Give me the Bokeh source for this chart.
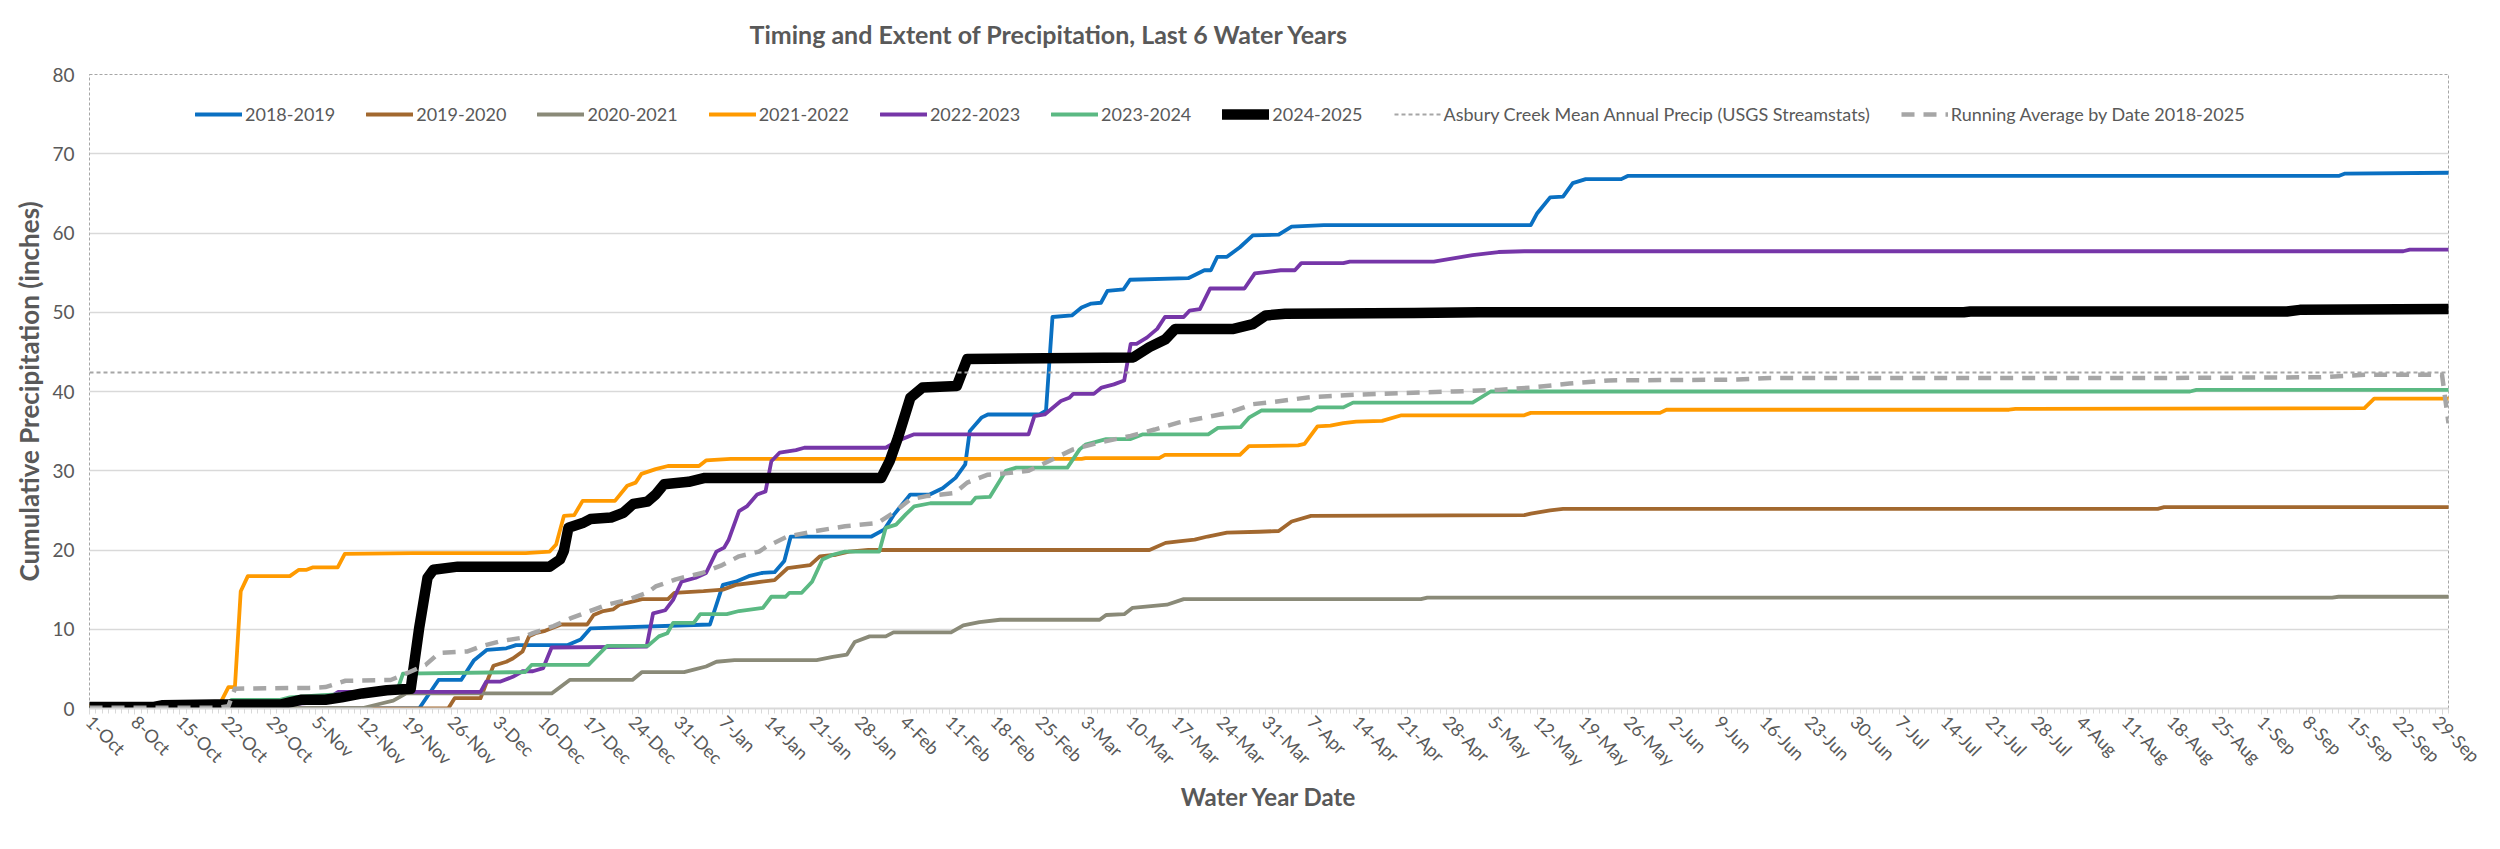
import math
from bokeh.plotting import figure
from bokeh.models import FixedTicker, Range1d, Legend, LegendItem, ColumnDataSource, Title
from bokeh.embed import file_html
from bokeh.resources import INLINE

# ---------------- data ----------------
# day index 0 = 1-Oct ... 365 = 30-Sep (leap-year calendar)
tick_labels = ["1-Oct", "8-Oct", "15-Oct", "22-Oct", "29-Oct",
               "5-Nov", "12-Nov", "19-Nov", "26-Nov",
               "3-Dec", "10-Dec", "17-Dec", "24-Dec", "31-Dec",
               "7-Jan", "14-Jan", "21-Jan", "28-Jan",
               "4-Feb", "11-Feb", "18-Feb", "25-Feb",
               "3-Mar", "10-Mar", "17-Mar", "24-Mar", "31-Mar",
               "7-Apr", "14-Apr", "21-Apr", "28-Apr",
               "5-May", "12-May", "19-May", "26-May",
               "2-Jun", "9-Jun", "16-Jun", "23-Jun", "30-Jun",
               "7-Jul", "14-Jul", "21-Jul", "28-Jul",
               "4-Aug", "11-Aug", "18-Aug", "25-Aug",
               "1-Sep", "8-Sep", "15-Sep", "22-Sep", "29-Sep"]
n_days = 366

days_2018_2019 = [0, 51, 54, 57.5, 59.5, 61.5, 64.5, 66, 74, 76, 77.5, 96, 98, 100, 102, 104, 106, 107.5,
                  108.5, 121, 123, 124.5, 127, 130, 132, 134, 135.5, 136.2, 138, 139, 147, 148, 149, 152,
                  153.5, 155, 156.5, 157.5, 160, 161, 170, 172.5, 173.5, 174.5, 176, 178, 180, 184, 186,
                  191, 223, 224, 226, 228, 229.5, 231.5, 237, 238, 348, 349, 365]
precip_2018_2019 = [0, 0, 3.6, 3.6, 6.1, 7.4, 7.6, 8.0, 8.0, 8.7, 10.1, 10.6, 15.6, 16.0, 16.7, 17.1, 17.2, 18.6,
                    21.7, 21.7, 22.6, 24.5, 27.0, 27.0, 27.8, 29.1, 30.8, 35.0, 36.7, 37.1, 37.1, 37.6, 49.4, 49.6,
                    50.6, 51.1, 51.2, 52.7, 52.9, 54.1, 54.3, 55.3, 55.3, 57.0, 57.0, 58.2, 59.7, 59.8, 60.8,
                    61.0, 61.0, 62.5, 64.5, 64.6, 66.3, 66.8, 66.8, 67.2, 67.2, 67.5, 67.6]

days_2019_2020 = [0, 55.5, 56.5, 60.5, 61.5, 62.5, 64.5, 65.5, 67, 68, 69, 70.5, 73, 77, 78, 79.5, 81, 82, 83.5,
                  85.5, 89.5, 90.5, 95, 98, 100, 103, 106, 108, 111.5, 113, 115.5, 117.5, 120.5, 164, 166.5,
                  168.5, 171, 173, 176, 181, 184, 186, 189, 222, 223, 226, 228, 320, 321, 365]
precip_2019_2020 = [0, 0, 1.3, 1.3, 3.4, 5.4, 5.9, 6.3, 7.2, 9.1, 9.5, 9.8, 10.6, 10.6, 11.8, 12.3, 12.5, 13.1, 13.4,
                    13.8, 13.8, 14.6, 14.8, 15.0, 15.6, 15.9, 16.2, 17.7, 18.1, 19.2, 19.4, 19.8, 20.0, 20.0, 20.9,
                    21.1, 21.3, 21.7, 22.2, 22.3, 22.4, 23.6, 24.3, 24.4, 24.6, 25.0, 25.2, 25.2, 25.4, 25.4]

days_2020_2021 = [0, 42, 45, 47, 49, 71.5, 74.3, 84, 85.5, 92, 93.5, 95.4, 97, 99.8, 112.5, 115, 117.2, 118.4,
                  120.7, 123.2, 124.4, 133.3, 135.2, 137.7, 140.9, 156.3, 157.3, 160.1, 161.4, 166.7, 169.3,
                  206, 207, 347, 348, 365]
precip_2020_2021 = [0, 0, 0.6, 1.0, 1.9, 1.9, 3.6, 3.6, 4.6, 4.6, 4.9, 5.3, 5.9, 6.1, 6.1, 6.5, 6.8, 8.4,
                    9.1, 9.1, 9.6, 9.6, 10.5, 10.9, 11.2, 11.2, 11.8, 11.9, 12.7, 13.1, 13.8,
                    13.8, 14.0, 14.0, 14.1, 14.1]

days_2021_2022 = [0, 20, 21.5, 22.5, 23.4, 24.5, 31, 32.4, 33.6, 34.5, 38.4, 39.5, 50, 67.5, 71.2, 72.2, 73.4,
                  75, 76.3, 81.3, 83.2, 84.5, 85.4, 87.6, 89.5, 94.3, 95.4, 99.2, 153.5, 154.1, 165.5, 166.4,
                  178, 179.4, 187, 188, 190, 192, 194, 196, 200, 203, 222, 223, 243, 244, 297, 298, 352,
                  353.5, 365]
precip_2021_2022 = [0.3, 0.3, 2.7, 2.7, 14.8, 16.7, 16.7, 17.5, 17.5, 17.8, 17.8, 19.5, 19.6, 19.6, 19.8, 20.7, 24.3,
                    24.4, 26.2, 26.2, 28.1, 28.5, 29.6, 30.2, 30.6, 30.6, 31.3, 31.5, 31.5, 31.6, 31.6, 32.0,
                    32.0, 33.1, 33.2, 33.4, 35.6, 35.7, 36.0, 36.2, 36.3, 37.0, 37.0, 37.3, 37.3, 37.7, 37.7, 37.8,
                    37.9, 39.1, 39.1]

days_2022_2023 = [0, 20, 30, 36, 38.5, 60.5, 61.4, 63.6, 65.5, 67, 68.6, 70.2, 71.5, 86.2, 87.2, 89.1, 90.3,
                  91.6, 93.8, 95.4, 97, 98.2, 98.9, 100.5, 101.7, 103.3, 104.6, 105.5, 106.8, 109.3, 110.6,
                  123.2, 125.1, 127.6, 145.3, 146.2, 147.8, 150.3, 151.6, 152.2, 155.4, 156.6, 158.5, 160.1,
                  161.1, 162, 163.6, 165.2, 166.4, 169.3, 170.2, 171.8, 173.4, 178.7, 180.3, 184.3, 186.5,
                  187.5, 194, 195, 208, 211, 214, 218, 222, 358, 359, 365]
precip_2022_2023 = [0, 0.3, 0.5, 0.8, 2.1, 2.1, 3.4, 3.4, 4.0, 4.7, 4.7, 5.1, 7.7, 7.8, 12.0, 12.4, 13.7,
                    16.0, 16.5, 17.1, 19.8, 20.3, 21.3, 24.9, 25.5, 27.0, 27.4, 31.2, 32.3, 32.6, 32.9,
                    32.9, 33.8, 34.6, 34.6, 36.9, 37.1, 38.8, 39.2, 39.7, 39.7, 40.5, 40.9, 41.4,
                    46.0, 46.0, 46.8, 47.9, 49.4, 49.4, 50.2, 50.4, 53.0, 53.0, 54.9, 55.3, 55.3,
                    56.2, 56.2, 56.4, 56.4, 56.8, 57.2, 57.6, 57.7, 57.7, 57.9, 57.9]

days_2023_2024 = [0, 20.5, 22, 29.5, 31, 36, 42, 47.5, 48.5, 67.4, 68.4, 77.2, 80.1, 86.4, 88.1, 89.4, 90.3,
                  93.5, 94.5, 98.6, 100.5, 104.2, 105.5, 107.7, 108.3, 110.2, 111.8, 113.4, 115, 116.9,
                  122.2, 123.2, 124.8, 126.3, 127.6, 130.1, 136.4, 137.1, 139.3, 141.8, 143.4, 151.3, 153.2,
                  154.1, 157.3, 161.1, 163, 173.1, 174.6, 178.1, 179.4, 181.3, 189, 190, 194, 195.5, 214,
                  216.8, 325, 326, 365]
precip_2023_2024 = [0, 0, 1.1, 1.1, 1.4, 1.7, 1.9, 2.0, 4.4, 4.6, 5.5, 5.5, 7.9, 7.9, 9.1, 9.5, 10.8,
                    10.8, 11.9, 11.9, 12.3, 12.7, 14.1, 14.1, 14.6, 14.6, 16.0, 18.8, 19.4, 19.8,
                    19.8, 22.8, 23.2, 24.5, 25.5, 25.9, 25.9, 26.6, 26.7, 30.0, 30.4, 30.4, 32.7,
                    33.3, 34.0, 34.0, 34.6, 34.6, 35.4, 35.5, 36.7, 37.6, 37.6, 38.0, 38.0, 38.6, 38.6,
                    40.0, 40.0, 40.2, 40.2]

days_2024_2025 = [0, 10, 11.2, 19.4, 29.5, 32.7, 36.5, 39, 42.2, 46, 49.7, 51, 52.3, 53.2, 57, 71.2, 72.8,
                  73.4, 74.1, 76.3, 77.5, 80.7, 82.6, 84.1, 86.3, 87.6, 88.9, 92.7, 95.2, 122.5, 123.8,
                  125.1, 127, 128.9, 134.2, 135.8, 161.5, 164, 166.5, 168, 177, 180, 182, 185, 205, 215,
                  290, 291, 340, 342, 365]
precip_2024_2025 = [0.2, 0.2, 0.4, 0.5, 0.5, 1.1, 1.1, 1.4, 1.9, 2.3, 2.5, 10.1, 16.5, 17.5, 17.9, 17.9, 18.8,
                    19.9, 22.8, 23.4, 23.9, 24.1, 24.7, 25.8, 26.1, 27.0, 28.3, 28.6, 29.1, 29.1, 31.2,
                    34.2, 39.2, 40.5, 40.7, 44.1, 44.3, 45.6, 46.6, 47.9, 47.9, 48.5, 49.6, 49.8, 49.9, 50.0,
                    50.0, 50.1, 50.1, 50.3, 50.4]

mean_annual_precip = 42.4  # Asbury Creek Mean Annual Precip (USGS Streamstats)

days_running_avg = [0, 20, 21.5, 22.5, 34, 36.5, 39.6, 46.6, 48.4, 52, 54.1, 58.5, 60.4, 63.6, 66.7, 68.6, 71.8,
                    74.5, 80.1, 83.2, 86.3, 87.6, 90.7, 94.8, 97.9, 100.5, 103.6, 104.9, 108, 112.4, 116.9,
                    121.9, 124.4, 127, 129.5, 133.9, 135.8, 139, 142.1, 145.3, 148.4, 152.2, 156, 161.1,
                    164.8, 168.6, 172.4, 176.2, 180, 184.3, 189, 196, 203, 211, 218, 223, 229, 235, 255,
                    260, 320, 345, 352, 364, 365]
precip_running_avg = [0.1, 0.1, 0.3, 2.5, 2.6, 2.7, 3.5, 3.6, 4.2, 5.5, 7.0, 7.2, 7.8, 8.5, 8.9, 9.5, 10.4,
                      11.4, 13.1, 13.7, 14.6, 15.4, 16.3, 17.1, 18.1, 19.2, 19.8, 20.5, 21.7, 22.4, 23.0,
                      23.4, 24.7, 26.4, 26.8, 27.2, 28.5, 29.5, 29.7, 30.0, 31.2, 32.7, 33.5, 34.4,
                      35.2, 36.1, 36.7, 37.3, 38.4, 38.8, 39.3, 39.6, 39.8, 40.0, 40.2, 40.5, 41.0, 41.4, 41.5,
                      41.7, 41.7, 41.8, 42.1, 42.1, 36.0]

series = [
    ("2018-2019", days_2018_2019, precip_2018_2019, "#0A70C2", 3.8),
    ("2019-2020", days_2019_2020, precip_2019_2020, "#A2682F", 3.8),
    ("2020-2021", days_2020_2021, precip_2020_2021, "#8A8A78", 3.8),
    ("2021-2022", days_2021_2022, precip_2021_2022, "#FF9A00", 3.8),
    ("2022-2023", days_2022_2023, precip_2022_2023, "#7636A8", 3.8),
    ("2023-2024", days_2023_2024, precip_2023_2024, "#5BB983", 3.8),
    ("2024-2025", days_2024_2025, precip_2024_2025, "#000000", 10.5),
]

# ---------------- figure ----------------
FONT = "Lato"
TXT = "#595959"

p = figure(width=2484, height=833, output_backend="svg", toolbar_location=None,
           x_range=Range1d(0, n_days - 1), y_range=Range1d(0, 80),
           min_border_left=89, min_border_right=36, min_border_top=74, min_border_bottom=125,
           title="Timing and Extent of Precipitation, Last 6 Water Years")

p.title.text_font = FONT
p.title.text_font_size = "25px"
p.title.text_font_style = "bold"
p.title.text_color = TXT
p.title.align = "left"
p.title.offset = 660
p.title.vertical_align = "bottom"
p.title.standoff = 10

# empty spacer between the title and the plot frame (moves the title up)
p.add_layout(Title(text=" ", text_font_size="2px", standoff=17), "above")

p.background_fill_color = "white"
p.border_fill_color = "white"
p.outline_line_color = "#a6a6a6"
p.outline_line_dash = "3 2"
p.outline_line_width = 1

# y axis
p.yaxis.ticker = FixedTicker(ticks=list(range(0, 81, 10)))
p.yaxis.axis_line_color = None
p.yaxis.major_tick_line_color = None
p.yaxis.minor_tick_line_color = None
p.yaxis.major_label_text_font = FONT
p.yaxis.major_label_text_font_size = "19px"
p.yaxis.major_label_text_color = TXT
p.yaxis.major_label_standoff = 9
p.yaxis.axis_label = "Cumulative Precipitation (inches)"
p.yaxis.axis_label_text_font = FONT
p.yaxis.axis_label_text_font_size = "26px"
p.yaxis.axis_label_text_font_style = "bold"
p.yaxis.axis_label_text_color = TXT
p.yaxis.axis_label_standoff = 4

# x axis
tick_days = list(range(0, n_days, 7))[:len(tick_labels)]
p.xaxis.ticker = FixedTicker(ticks=tick_days, minor_ticks=list(range(n_days)))
p.xaxis.major_label_overrides = {d: lab for d, lab in zip(tick_days, tick_labels)}
p.xaxis.major_label_orientation = -math.pi / 4
p.xaxis.major_label_text_font = FONT
p.xaxis.major_label_text_font_size = "18px"
p.xaxis.major_label_text_color = TXT
p.xaxis.major_label_standoff = 4
p.xaxis.axis_line_color = "#d9d9d9"
p.xaxis.axis_line_width = 2
p.xaxis.major_tick_line_color = "#d9d9d9"
p.xaxis.major_tick_in = 0
p.xaxis.major_tick_out = 6
p.xaxis.minor_tick_line_color = "#d9d9d9"
p.xaxis.minor_tick_in = 0
p.xaxis.minor_tick_out = 5
p.xaxis.axis_label = "Water Year Date"
p.xaxis.axis_label_text_font = FONT
p.xaxis.axis_label_text_font_size = "24px"
p.xaxis.axis_label_text_font_style = "bold"
p.xaxis.axis_label_text_color = TXT
p.xaxis.axis_label_standoff = 1

p.xgrid.grid_line_color = None
p.ygrid.grid_line_color = "#d9d9d9"
p.ygrid.grid_line_width = 1.5

items = []
for name, d, v, color, w in series:
    r = p.line(d, v, line_color=color, line_width=w, line_join="round", line_cap="round")
    items.append(LegendItem(label=name, renderers=[r]))

mean_src = ColumnDataSource(dict(x=[0, n_days - 1], y=[mean_annual_precip, mean_annual_precip]))
r_mean = p.line("x", "y", source=mean_src, line_color="#a6a6a6", line_width=1.8, line_dash="4 3")
items.append(LegendItem(label="Asbury Creek Mean Annual Precip (USGS Streamstats)", renderers=[r_mean]))

r_avg = p.line(days_running_avg, precip_running_avg, line_color="#a6a6a6", line_width=4.5,
               line_dash="13 9", line_join="round")
items.append(LegendItem(label="Running Average by Date 2018-2025", renderers=[r_avg]))

legend = Legend(items=items, orientation="horizontal", location=(106, 583))
legend.label_text_font = FONT
legend.label_text_font_size = "18px"
legend.label_text_color = TXT
legend.glyph_width = 47
legend.glyph_height = 20
legend.label_standoff = 3
legend.spacing = 31
legend.padding = 5
legend.margin = 0
legend.border_line_color = None
legend.background_fill_alpha = 0
p.add_layout(legend)

open("out.html", "w").write(file_html(p, INLINE))
